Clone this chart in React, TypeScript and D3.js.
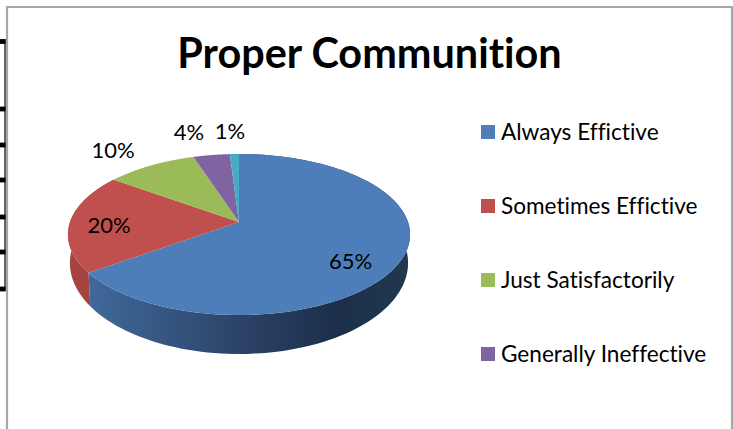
import React from "react";
import * as d3 from "d3";

const categories = ["Always Effictive", "Sometimes Effictive", "Just Satisfactorily", "Generally Ineffective", "Other"];
const values = [65, 20, 10, 4, 1];
const colors = ["#4d7eba", "#bf504d", "#9bbb59", "#8064a2", "#48abc5"];
const legendCount = 4;
const wallStops: [number, string][] = [[0, "#40699b"], [0.45, "#2d456a"], [0.78, "#1b2f4a"], [1, "#22384f"]];
const separators = [41.5, 109, 145, 180, 217, 252, 289];

const cx = 239, cy = 222, rx = 169, back = -0.1553, lift = 44.08;
const project = (a: number): [number, number] => {
  const u = Math.sin(a), v = -Math.cos(a);
  const w = 1 + back * v;
  return [cx + (rx * u) / w, (cy + lift * v) / w];
};
// The base of the disc is a slightly narrower ellipse seen further from the viewer.
const lower = ([x, y]: [number, number]): [number, number] => [
  cx + ((x - cx) * 169) / 171,
  263 + ((y - 234.5) * 91) / 80.5,
];
const arcs = d3.pie<number>().sort(null)(values);
const line = d3.line();
const rim = (a0: number, a1: number) =>
  d3.range(0, 121).map((i) => project(a0 + ((a1 - a0) * i) / 120));
const topPath = (a0: number, a1: number) =>
  line([[cx, cy], ...rim(a0, a1)])! + "Z";
const wallPath = (a0: number, a1: number) => {
  const r = rim(a0, a1);
  return line([...r, ...r.map(lower).reverse()])! + "Z";
};
const labelPos = [[350.5, 261], [109, 225], [113, 150.5], [189, 132.5], [230, 131.5]];
const legendY = d3.scalePoint<number>().domain(d3.range(legendCount)).range([132, 354]);

export default function App() {
  const font = "Lato, Carlito, sans-serif";
  const textStyle = { fontVariantLigatures: "none" as const };
  return (
    <svg width={733} height={429} style={{ position: "absolute", left: 0, top: 0, background: "#fff" }}>
      <defs>
        <linearGradient id="wall" gradientUnits="userSpaceOnUse" x1={88} x2={409} y1={0} y2={0}>
          {wallStops.map(([o, c]) => <stop key={o} offset={o} stopColor={c} />)}
        </linearGradient>
      </defs>
      <path d="M7 429V7H732V429" fill="none" stroke="#a6a6a6" strokeWidth={2.2} />
      <line x1={5} x2={5} y1={39} y2={291} stroke="#000" strokeWidth={1.2} />
      {separators.map((y) => <rect key={y} x={0} y={y - 2.4} width={5.5} height={4.8} fill="#000" />)}
      <text x={369.5} y={68} textAnchor="middle" fontFamily={font} fontWeight={700} fontSize={41.4} fill="#000" style={textStyle}>Proper Communition</text>
      {arcs.slice(0, 2).reverse().map((d) => (
        <path key={d.index} d={wallPath(d.startAngle, d.endAngle)} fill={d.index === 0 ? "url(#wall)" : "#a5433f"} />
      ))}
      {arcs.map((d) => <path key={d.index} d={topPath(d.startAngle, d.endAngle)} fill={colors[d.index]} />)}
      {arcs.map((d) => (
        <text key={d.index} x={labelPos[d.index][0]} y={labelPos[d.index][1]} dy="0.35em" textAnchor="middle" fontFamily={font} fontSize={22} fill="#000">
          {values[d.index]}%
        </text>
      ))}
      {categories.slice(0, legendCount).map((c, i) => (
        <g key={c}>
          <rect x={481} y={legendY(i)! - 7} width={14} height={14} fill={colors[i]} />
          <text x={501} y={legendY(i)!} dy="0.35em" fontFamily={font} fontSize={22.6} fill="#000" style={textStyle}>{c}</text>
        </g>
      ))}
    </svg>
  );
}
